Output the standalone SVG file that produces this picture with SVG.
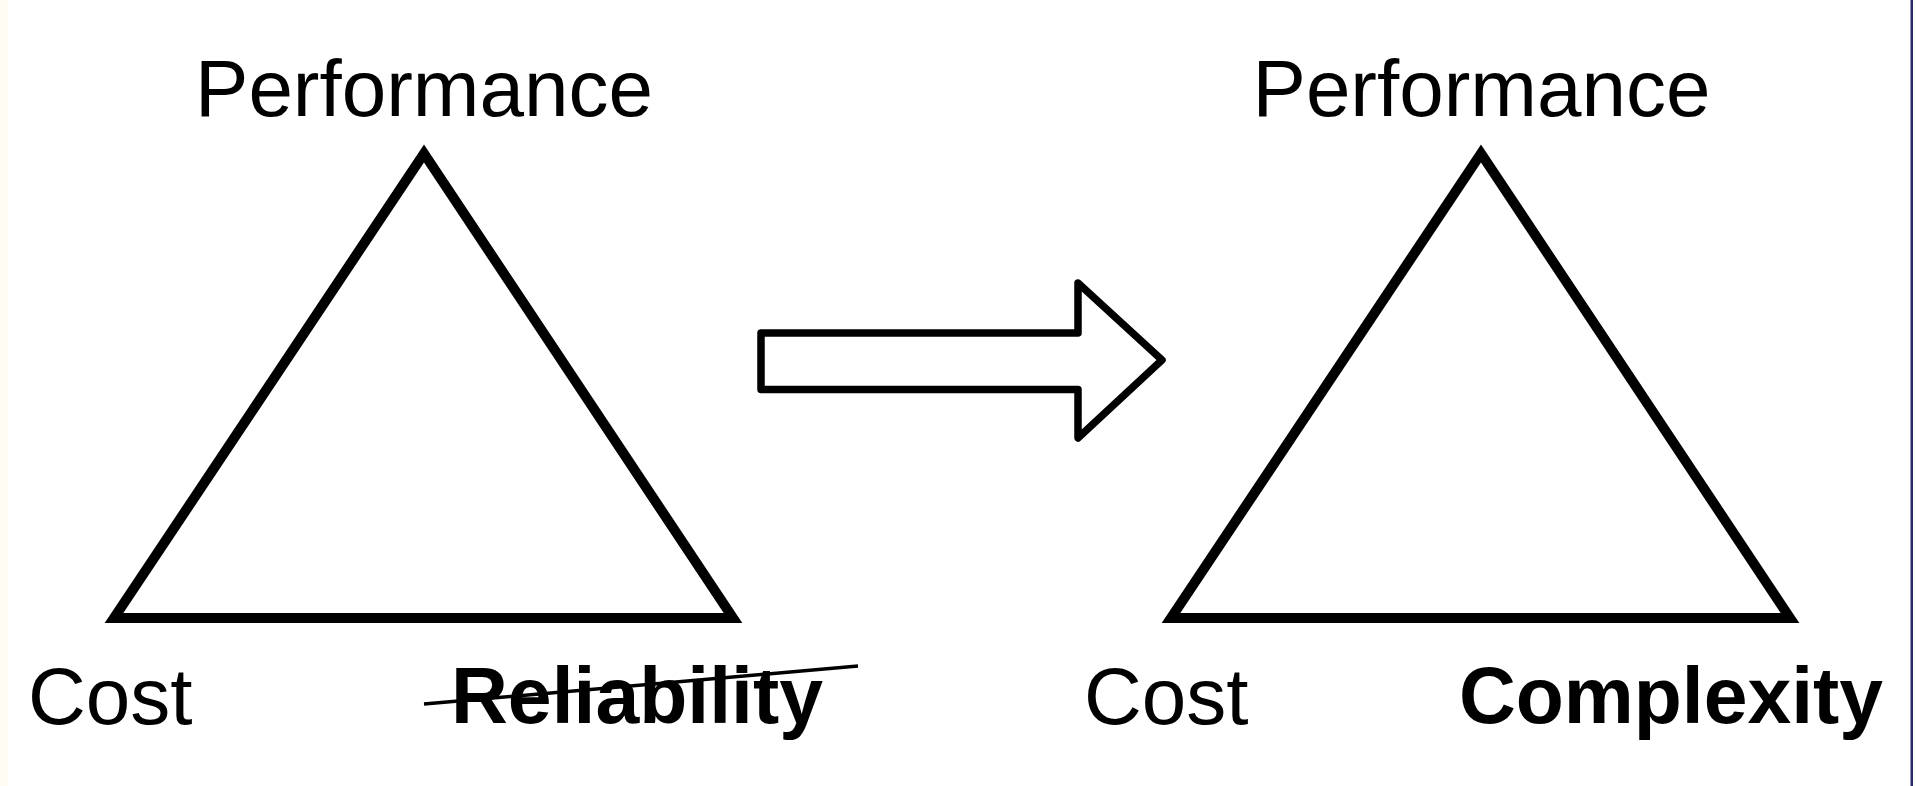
<svg xmlns="http://www.w3.org/2000/svg" width="1916" height="786" viewBox="0 0 1916 786">
<style>
.tri{fill:none;stroke:#000;stroke-width:10;stroke-linejoin:miter;stroke-miterlimit:10}
.arrow{fill:#fff;stroke:#000;stroke-width:7.5;stroke-linejoin:round}
.lbl{font-family:"Liberation Sans",Arial,Helvetica,sans-serif;font-size:80px;fill:#000}
.bold{font-weight:bold}
</style>
<rect x="0" y="0" width="1916" height="786" fill="#fff"/>
<rect x="0" y="0" width="8" height="786" fill="#fffdf3"/>
<rect x="1910.5" y="0" width="2.5" height="786" fill="#2b2b6b"/>
<g id="left-triangle">
<polygon class="tri" points="424,153.5 114,618 733,618"/>
<text class="lbl" x="424" y="116" text-anchor="middle">Performance</text>
<text class="lbl" x="28" y="724">Cost</text>
<text class="lbl bold" x="451" y="723" textLength="372" lengthAdjust="spacingAndGlyphs">Reliability</text>
<line x1="424" y1="704" x2="858" y2="666" stroke="#000" stroke-width="3.5"/>
</g>
<g id="right-triangle">
<polygon class="tri" points="1481,153.5 1171,618 1790,618"/>
<text class="lbl" x="1481.5" y="116" text-anchor="middle">Performance</text>
<text class="lbl" x="1084" y="724">Cost</text>
<text class="lbl bold" x="1459" y="723" textLength="424" lengthAdjust="spacingAndGlyphs">Complexity</text>
</g>
<g id="connectors">
<polygon class="arrow" points="761,333 1078,333 1078,283 1162,360 1078,438 1078,389.5 761,389.5"/>
</g>
</svg>
